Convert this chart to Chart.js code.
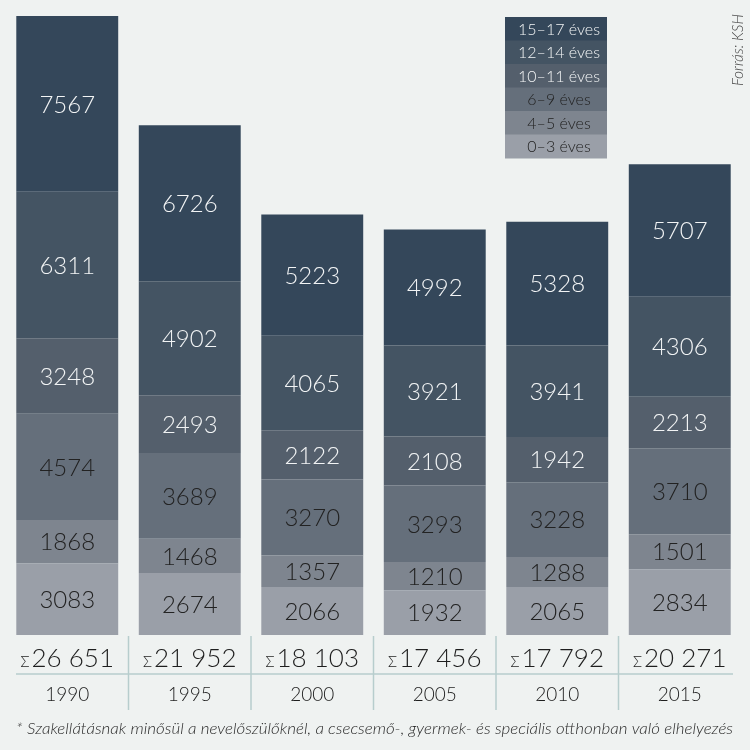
<!DOCTYPE html>
<html><head><meta charset="utf-8">
<script src="https://cdn.jsdelivr.net/npm/chart.js@4"></script>
<style>html,body{margin:0;padding:0;background:#eff2f1;}#wrap{width:750px;height:750px;position:relative;}</style>
</head><body><div id="wrap"><canvas id="c" width="750" height="750"></canvas></div>
<script>
const categories = ['1990','1995','2000','2005','2010','2015'];
const seriesNames = ['0–3 éves','4–5 éves','6–9 éves','10–11 éves','12–14 éves','15–17 éves'];
const age0_3   = [3083, 2674, 2066, 1932, 2065, 2834];
const age4_5   = [1868, 1468, 1357, 1210, 1288, 1501];
const age6_9   = [4574, 3689, 3270, 3293, 3228, 3710];
const age10_11 = [3248, 2493, 2122, 2108, 1942, 2213];
const age12_14 = [6311, 4902, 4065, 3921, 3941, 4306];
const age15_17 = [7567, 6726, 5223, 4992, 5328, 5707];
const footnote = '* Szakellátásnak minősül a nevelőszülőknél, a csecsemő-, gyermek- és speciális otthonban való elhelyezés';
const source = 'Forrás: KSH';

const series = [age0_3, age4_5, age6_9, age10_11, age12_14, age15_17];
const colors = ['#9a9fa8','#7e858f','#656f7b','#545f6c','#445463','#34475a'];
const textColors = ['#222','#222','#222','#f2f4f5','#f2f4f5','#f2f4f5'];
const totals = categories.map((_, i) => series.reduce((s, arr) => s + arr[i], 0));
const fmt = n => String(n).replace(/\B(?=(\d{3})+(?!\d))/g, ' ');
const FONT = 'Lato, "Open Sans", sans-serif';
const W = '300 ';

const decor = {
  id: 'decor',
  afterDatasetsDraw(chart) {
    const ctx = chart.ctx;
    const xs = chart.scales.x;
    chart.data.datasets.forEach((ds, di) => {
      const meta = chart.getDatasetMeta(di);
      meta.data.forEach((bar, i) => {
        ctx.save();
        ctx.fillStyle = textColors[di];
        ctx.font = W + '24px ' + FONT;
        ctx.textAlign = 'center';
        ctx.textBaseline = 'middle';
        ctx.fillText(String(ds.data[i]), bar.x, (bar.y + bar.base) / 2 + 1);
        ctx.restore();
      });
    });
    const bottom = chart.chartArea.bottom;
    ctx.save();
    ctx.strokeStyle = '#b7cdcd';
    ctx.lineWidth = 1.5;
    for (let i = 0; i < categories.length - 1; i++) {
      const xm = (xs.getPixelForValue(i) + xs.getPixelForValue(i + 1)) / 2;
      ctx.beginPath(); ctx.moveTo(xm, bottom + 1); ctx.lineTo(xm, 710); ctx.stroke();
    }
    ctx.beginPath(); ctx.moveTo(16, 674); ctx.lineTo(733, 674); ctx.stroke();
    categories.forEach((c, i) => {
      const x = xs.getPixelForValue(i);
      ctx.fillStyle = '#1e1e1e';
      ctx.textBaseline = 'alphabetic';
      ctx.font = W + '26px ' + FONT;
      const num = fmt(totals[i]);
      const wNum = ctx.measureText(num).width;
      ctx.font = W + '15px ' + FONT;
      const wSig = ctx.measureText('Σ').width + 2;
      const start = x - (wNum + wSig) / 2;
      ctx.textAlign = 'left';
      ctx.fillText('Σ', start, 667);
      ctx.font = W + '26px ' + FONT;
      ctx.fillText(num, start + wSig, 667);
      ctx.textAlign = 'center';
      ctx.font = W + '19px ' + FONT;
      ctx.fillText(c, x, 701);
    });
    const lx = 505, lw = 102, ly = 17, lh = 23.5;
    for (let k = 0; k < seriesNames.length; k++) {
      const di = seriesNames.length - 1 - k;
      ctx.fillStyle = colors[di];
      ctx.fillRect(lx, ly + k * lh, lw, lh + 0.5);
      ctx.fillStyle = textColors[di];
      ctx.font = W + '16px ' + FONT;
      ctx.textAlign = 'center';
      ctx.textBaseline = 'middle';
      ctx.fillText(seriesNames[di], lx + lw / 2 + 3, ly + k * lh + lh / 2 + 1);
    }
    ctx.fillStyle = '#2a2a2a';
    ctx.font = 'italic ' + W + '15px ' + FONT;
    ctx.textAlign = 'left';
    ctx.textBaseline = 'middle';
    const fw = ctx.measureText(footnote).width;
    ctx.save();
    ctx.translate(16, 729);
    ctx.scale(717 / fw, 1);
    ctx.fillText(footnote, 0, 0);
    ctx.restore();
    ctx.save();
    ctx.translate(738, 50);
    ctx.rotate(-Math.PI / 2);
    ctx.fillStyle = '#444';
    ctx.font = 'italic ' + W + '15px ' + FONT;
    ctx.textAlign = 'center';
    ctx.textBaseline = 'middle';
    ctx.fillText(source, 0, 0);
    ctx.restore();
    ctx.restore();
  }
};

new Chart(document.getElementById('c'), {
  type: 'bar',
  data: {
    labels: categories,
    datasets: series.map((arr, i) => ({
      label: seriesNames[i],
      data: arr,
      backgroundColor: colors[i],
      borderWidth: 0,
      barPercentage: 0.832,
      categoryPercentage: 1.0
    }))
  },
  options: {
    responsive: false,
    animation: false,
    devicePixelRatio: 1,
    layout: { padding: { left: 6, right: 9, top: 16, bottom: 115 } },
    plugins: { legend: { display: false }, tooltip: { enabled: false } },
    scales: {
      x: { stacked: true, display: false },
      y: { stacked: true, display: false, min: 0, max: totals[0] }
    }
  },
  plugins: [decor]
});
</script></body></html>
